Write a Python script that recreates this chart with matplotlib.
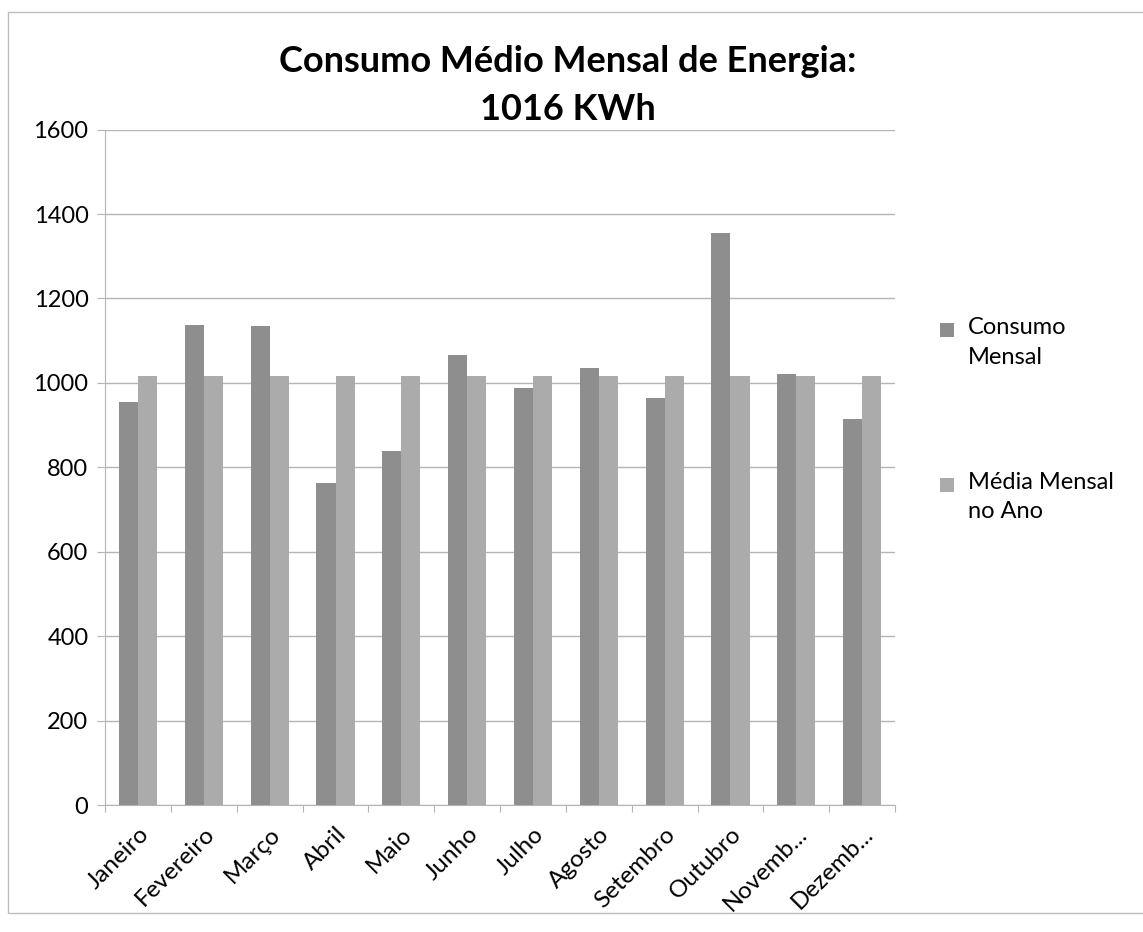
import numpy as np
import matplotlib
matplotlib.use("Agg")
import matplotlib.pyplot as plt
from matplotlib.patches import Rectangle

meses = ["Janeiro", "Fevereiro", "Março", "Abril", "Maio", "Junho", "Julho",
         "Agosto", "Setembro", "Outubro", "Novemb...", "Dezemb..."]
consumo_mensal = [954, 1137, 1134, 762, 840, 1065, 987, 1035, 964, 1355, 1022, 914]
media_mensal = [1016] * 12
yticks = [0, 200, 400, 600, 800, 1000, 1200, 1400, 1600]
series_nomes = ["Consumo\nMensal", "Média Mensal\nno Ano"]
cores = ["#8e8e8e", "#ababab"]

plt.rcParams['font.family'] = ['Lato', 'DejaVu Sans']

fig = plt.figure(figsize=(11.43, 9.32), dpi=100)
W, H = 1143, 932
ax = fig.add_axes([0.092, 0.136, 0.691, 0.725])

x = np.arange(len(meses))
w = 0.29
ax.bar(x - w / 2, consumo_mensal, w, color=cores[0], zorder=3)
ax.bar(x + w / 2, media_mensal, w, color=cores[1], zorder=3)

ax.set_xlim(-0.5, len(meses) - 0.5)
ax.set_ylim(0, 1600)
ax.set_yticks(yticks)
ax.yaxis.grid(True, color="#b5b5b5", linewidth=1, zorder=0)
ax.tick_params(axis="y", length=6, color="#b5b5b5", labelsize=17, pad=6)

# ticks at category boundaries, labels at centers
ax.set_xticks(np.arange(len(meses) + 1) - 0.5)
ax.set_xticklabels([])
ax.tick_params(axis="x", which="major", length=5, color="#b5b5b5", direction="out")
ax.set_xticks(x, minor=True)
ax.set_xticklabels(meses, minor=True, rotation=45, ha="right",
                   rotation_mode="anchor", fontsize=17.5)
ax.tick_params(axis="x", which="minor", length=0, pad=13)

for s in ["top", "right"]:
    ax.spines[s].set_visible(False)
for s in ["left", "bottom"]:
    ax.spines[s].set_color("#b5b5b5")

fig.text(0.497, 0.952, "Consumo Médio Mensal de Energia:\n1016 KWh",
         ha="center", va="top", fontsize=26, fontweight="bold",
         linespacing=1.55)

# legend drawn by hand so the square sits next to the first line
leg_y = [330, 485]
for nome, cor, yy in zip(series_nomes, cores, leg_y):
    fig.patches.append(Rectangle((940 / W, 1 - (yy + 7) / H), 14 / W, 14 / H,
                                 transform=fig.transFigure, facecolor=cor,
                                 edgecolor="none"))
    fig.text(968 / W, 1 - (yy - 13) / H, nome, ha="left", va="top",
             fontsize=17, linespacing=1.5)

fig.patches.append(Rectangle((0.007, 0.02), 1.1, 0.967, transform=fig.transFigure,
                             fill=False, edgecolor="#bdbdbd", linewidth=1))

fig.savefig("out.png", dpi=100)
